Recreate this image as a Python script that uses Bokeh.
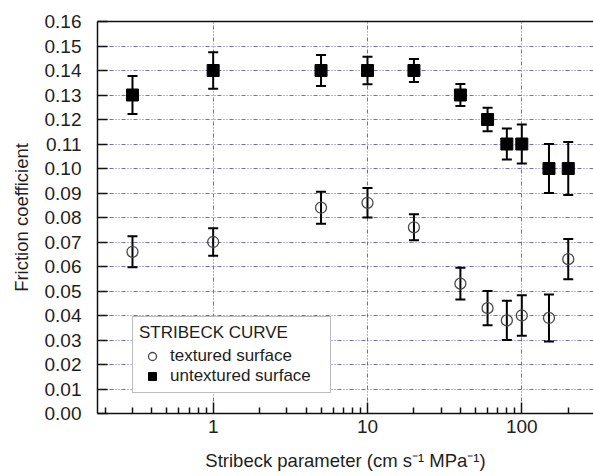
from bokeh.plotting import figure
from bokeh.models import (ColumnDataSource, Whisker, TeeHead, FixedTicker, LinearAxis,
                          Legend, LegendItem, PrintfTickFormatter, Range1d)
from bokeh.embed import file_html
from bokeh.resources import INLINE

# ---- data ----
stribeck = [0.3, 1, 5, 10, 20, 40, 60, 80, 100, 150, 200]
untextured = [0.130, 0.140, 0.140, 0.140, 0.140, 0.130, 0.120, 0.110, 0.110, 0.100, 0.100]
untextured_err = [0.0078, 0.0074, 0.0063, 0.0056, 0.0047, 0.0045, 0.0048, 0.0063, 0.0080, 0.0100, 0.0108]
textured = [0.066, 0.070, 0.084, 0.086, 0.076, 0.053, 0.043, 0.038, 0.040, 0.039, 0.063]
textured_err = [0.0063, 0.0056, 0.0065, 0.0060, 0.0053, 0.0065, 0.0070, 0.0080, 0.0083, 0.0096, 0.0082]

x_major = [1, 10, 100]
x_major_labels = ["1", "10", "100"]
x_minor = [0.2, 0.3, 0.4, 0.5, 0.6, 0.7, 0.8, 0.9,
           2, 3, 4, 5, 6, 7, 8, 9,
           20, 30, 40, 50, 60, 70, 80, 90, 200]
y_ticks = [round(i * 0.01, 2) for i in range(17)]

FONT = "Liberation Sans"
TXT = "#1e1e1e"
GRID = "#5c5cc6"

src_u = ColumnDataSource(dict(x=stribeck, y=untextured,
                              lo=[v - e for v, e in zip(untextured, untextured_err)],
                              hi=[v + e for v, e in zip(untextured, untextured_err)]))
src_t = ColumnDataSource(dict(x=stribeck, y=textured,
                              lo=[v - e for v, e in zip(textured, textured_err)],
                              hi=[v + e for v, e in zip(textured, textured_err)]))

p = figure(width=593, height=476, x_axis_type="log",
           x_range=Range1d(0.178, 291.5), y_range=Range1d(0, 0.16),
           output_backend="svg", toolbar_location=None,
           min_border_left=97, min_border_right=0, min_border_top=21, min_border_bottom=63)
p.outline_line_color = None
p.background_fill_color = "white"
p.border_fill_color = "white"

# x axis
xa = p.xaxis[0]
xa.ticker = FixedTicker(ticks=x_major, minor_ticks=x_minor)
xa.major_label_overrides = {v: s for v, s in zip(x_major, x_major_labels)}
xa.axis_label = "Stribeck parameter (cm s\u207b\u00b9 MPa\u207b\u00b9)"
# y axis
ya = p.yaxis[0]
ya.ticker = FixedTicker(ticks=y_ticks)
ya.formatter = PrintfTickFormatter(format="%.2f")
ya.axis_label = "Friction coefficient"

for ax in (xa, ya):
    ax.axis_line_color = "#111111"
    ax.axis_line_width = 1.5
    ax.major_tick_line_color = "#111111"
    ax.major_tick_line_width = 1.5
    ax.minor_tick_line_color = "#111111"
    ax.minor_tick_line_width = 1.5
    ax.major_tick_out = 0
    ax.minor_tick_out = 0
    ax.major_label_text_font = FONT
    ax.major_label_text_font_size = "19px"
    ax.major_label_text_color = TXT
    ax.axis_label_text_font = FONT
    ax.axis_label_text_font_size = "18.5px"
    ax.axis_label_text_font_style = "normal"
    ax.axis_label_text_color = TXT

xa.major_tick_in = 11
xa.minor_tick_in = 6
xa.major_label_standoff = 6
xa.axis_label_standoff = 14
ya.major_tick_in = 10
ya.minor_tick_line_color = None
ya.major_label_standoff = 16
ya.axis_label_standoff = 10

# top frame line
top = LinearAxis(ticker=FixedTicker(ticks=[]), axis_line_color="#111111", axis_line_width=1.5,
                 major_tick_line_color=None, minor_tick_line_color=None,
                 major_label_text_font_size="0px", major_label_standoff=0)
p.add_layout(top, "above")

# grid
p.xgrid.ticker = FixedTicker(ticks=x_major)
p.ygrid.ticker = FixedTicker(ticks=y_ticks)
for g in (p.xgrid[0], p.ygrid[0]):
    g.grid_line_color = GRID
    g.grid_line_width = 1
    g.grid_line_dash = "4 2 1 2 1 2"
    g.grid_line_alpha = 0.9

# error bars
for src in (src_u, src_t):
    w = Whisker(source=src, base="x", lower="lo", upper="hi", dimension="height",
                line_color="black", line_width=2,
                lower_head=TeeHead(size=10, line_width=2, line_color="black"),
                upper_head=TeeHead(size=10, line_width=2, line_color="black"))
    p.add_layout(w)

r_t = p.scatter("x", "y", source=src_t, marker="circle", size=11,
                fill_color=None, line_color="#4a4a4a", line_width=1.3)
r_u = p.scatter("x", "y", source=src_u, marker="square", size=12,
                fill_color="black", line_color="black")

legend = Legend(items=[LegendItem(label="textured surface", renderers=[r_t]),
                       LegendItem(label="untextured surface", renderers=[r_u])],
                title="STRIBECK CURVE", location=(35, 20),
                padding=6, spacing=0, margin=0,
                glyph_width=26, glyph_height=20, label_height=20, label_standoff=5,
                label_width=154, title_standoff=3,
                label_text_font=FONT, label_text_font_size="17px", label_text_color=TXT,
                title_text_font=FONT, title_text_font_size="17px", title_text_color=TXT,
                title_text_font_style="normal",
                border_line_color="#7a7a7a", border_line_width=1.5,
                background_fill_color="white", background_fill_alpha=1)
p.add_layout(legend, "center")

open("out.html", "w").write(file_html(p, INLINE))
